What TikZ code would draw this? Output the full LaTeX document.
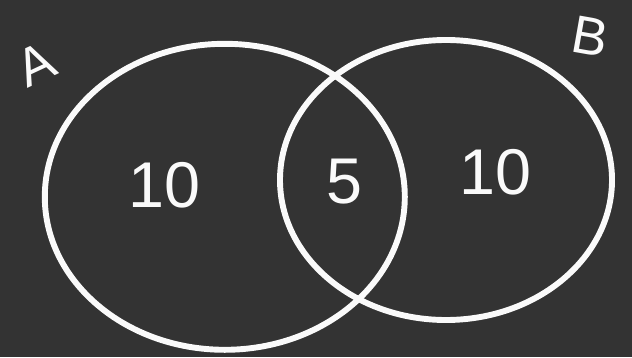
\documentclass[tikz,border=0pt]{standalone}
\usepackage{fontspec}
\setmainfont{Liberation Sans}
\usetikzlibrary{shapes.geometric}
\definecolor{boardGray}{RGB}{51,51,51}
\definecolor{chalkWhite}{RGB}{250,250,250}

\begin{document}
\begin{tikzpicture}[x=1cm,y=1cm]
\path[use as bounding box,fill=boardGray] (0,0) rectangle (15.80,-8.925);
\tikzset{setring/.style={ellipse,draw=chalkWhite,line width=4.2pt,inner sep=0pt},
  setname/.style={text=chalkWhite,font=\fontsize{38}{40}\selectfont},
  countnum/.style={text=chalkWhite,font=\fontsize{46}{48}\selectfont}}

\node[setring,minimum width=9.00cm,minimum height=7.65cm] (ringA) at (5.62,-4.92) {};
\node[setring,minimum width=8.30cm,minimum height=7.00cm] (ringB) at (11.15,-4.50) {};

\node[setname,rotate=25] (nameA) at (0.90,-1.62) {A};
\node[setname,rotate=-10] (nameB) at (14.75,-0.90) {B};

\node[countnum] (onlyA) at (4.12,-4.62) {10};
\node[countnum] (both) at (8.62,-4.55) {5};
\node[countnum] (onlyB) at (12.38,-4.30) {10};
\end{tikzpicture}
\end{document}
